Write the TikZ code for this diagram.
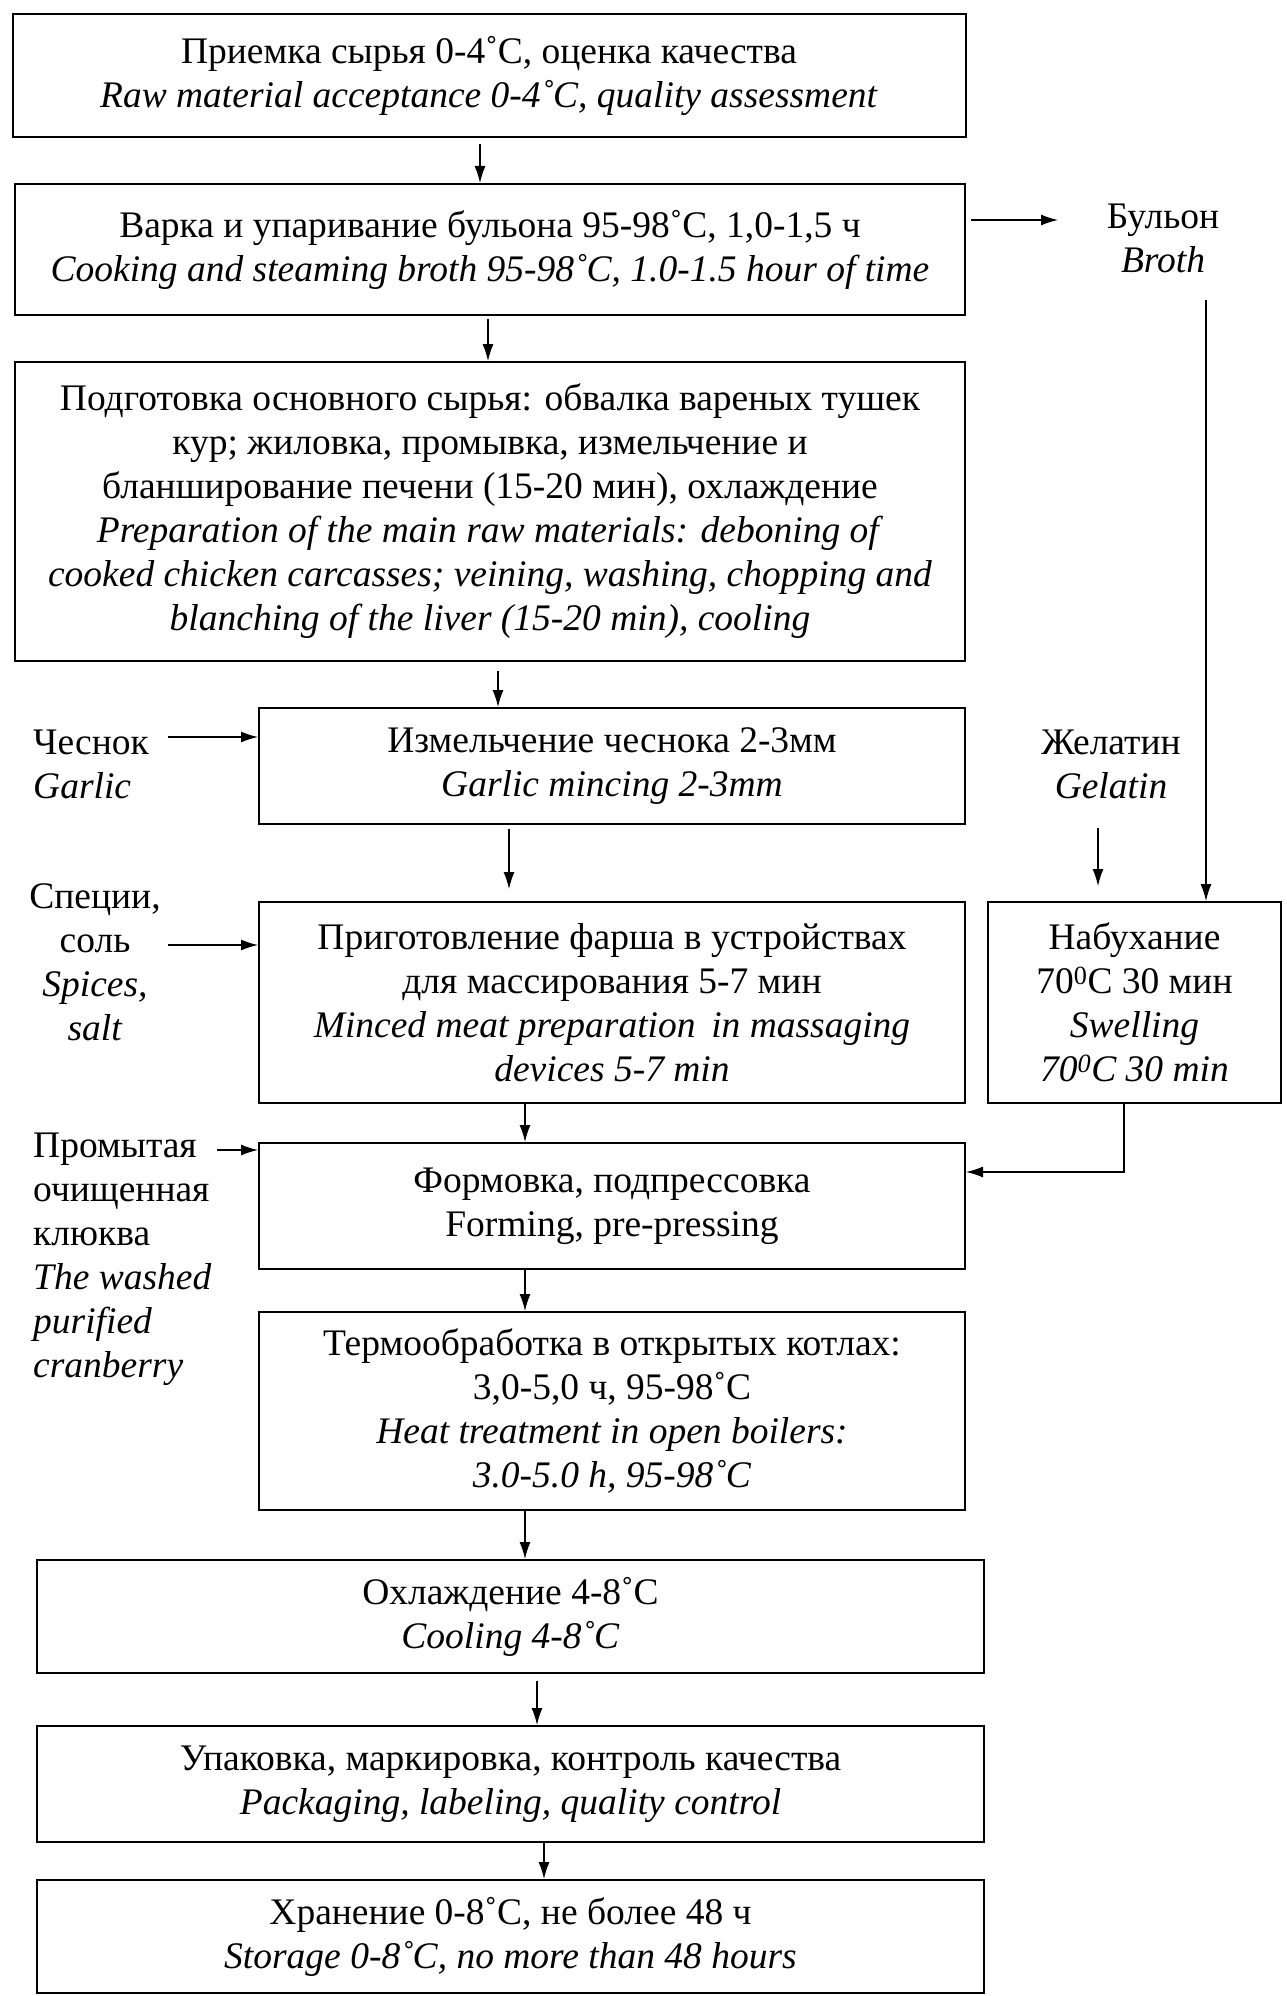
\documentclass[tikz,border=0pt]{standalone}
\usepackage{fontspec}
\setmainfont{Liberation Serif}
\usetikzlibrary{arrows.meta}
\newcommand\fsz{\fontsize{37.5}{44}\selectfont}
\tikzset{
  box/.style={draw, line width=2pt, inner sep=0pt, align=center, font=\fsz},
  lab/.style={inner sep=0pt, font=\fsz},
  arr/.style={line width=1.3pt, -{Latex[length=17pt,width=11pt]}}
}
\begin{document}
\begin{tikzpicture}[x=1pt,y=-1pt]
\useasboundingbox (0,0) rectangle (1286,1996);

% main boxes
\node[box, minimum width=953pt, minimum height=123pt] (b1) at (489,75.5)
  {Приемка сырья 0-4˚C, оценка качества\\\textit{Raw material acceptance 0-4˚C, quality assessment}};
\node[box, minimum width=950pt, minimum height=131pt] (b2) at (490,249.5)
  {Варка и упаривание бульона 95-98˚C, 1,0-1,5 ч\\\textit{Cooking and steaming broth 95-98˚C, 1.0-1.5 hour of time}};
\node[box, minimum width=950pt, minimum height=299pt] (b3) at (490,511.5)
  {Подготовка основного сырья: обвалка вареных тушек\\
   кур; жиловка, промывка, измельчение и\\
   бланширование печени (15-20 мин), охлаждение\\
   \textit{Preparation of the main raw materials: deboning of}\\
   \textit{cooked chicken carcasses; veining, washing, chopping and}\\
   \textit{blanching of the liver (15-20 min), cooling}};
\node[box, minimum width=706pt, minimum height=116pt] (b4) at (612,766)
  {Измельчение чеснока 2-3мм\\\textit{Garlic mincing 2-3mm}};
\node[box, minimum width=706pt, minimum height=201pt] (b5) at (612,1002.5)
  {Приготовление фарша в устройствах\\для массирования 5-7 мин\\
   \textit{Minced meat preparation\, in massaging}\\\textit{devices 5-7 min}};
\node[box, minimum width=293pt, minimum height=201pt] (sw) at (1134.5,1002.5)
  {Набухание\\70\textsuperscript{0}C 30 мин\\\textit{Swelling}\\\textit{70\textsuperscript{0}C 30 min}};
\node[box, minimum width=706pt, minimum height=126pt] (b6) at (612,1206)
  {Формовка, подпрессовка\\Forming, pre-pressing};
\node[box, minimum width=706pt, minimum height=198pt] (b7) at (612,1411)
  {Термообработка в открытых котлах:\\3,0-5,0 ч, 95-98˚C\\
   \textit{Heat treatment in open boilers:}\\\textit{3.0-5.0 h, 95-98˚C}};
\node[box, minimum width=947pt, minimum height=113pt] (b8) at (510.5,1616.5)
  {Охлаждение 4-8˚C\\\textit{Cooling 4-8˚C}};
\node[box, minimum width=947pt, minimum height=116pt] (b9) at (510.5,1784)
  {Упаковка, маркировка, контроль качества\\\textit{Packaging, labeling, quality control}};
\node[box, minimum width=947pt, minimum height=113pt] (b10) at (510.5,1936.5)
  {Хранение 0-8˚C, не более 48 ч\\\textit{Storage 0-8˚C, no more than 48 hours}};

% side labels
\node[lab, align=center] (broth) at (1163,238) {Бульон\\\textit{Broth}};
\node[lab, align=left, anchor=west] (garlic) at (33,764) {Чеснок\\\textit{Garlic}};
\node[lab, align=center] (gel) at (1111,764) {Желатин\\\textit{Gelatin}};
\node[lab, align=center] (spice) at (95,962) {Специи,\\соль\\\textit{Spices,}\\\textit{salt}};
\node[lab, align=left, anchor=west] (cran) at (33,1259)
  {Промытая\\очищенная\\клюква\\\textit{The washed}\\\textit{purified}\\\textit{cranberry}};

% coordinates
\coordinate (x1) at (480,0);
\coordinate (x2) at (488,0);
\coordinate (x3) at (498,0);
\coordinate (x4) at (509,0);
\coordinate (x5) at (525,0);
\coordinate (x8) at (537,0);
\coordinate (x9) at (544,0);
\coordinate (brin) at (1058,220);
\coordinate (bt) at (1206,300);
\coordinate (gaout) at (168,737);
\coordinate (geout) at (1098,828);
\coordinate (spout) at (168,945);
\coordinate (xs) at (1124,1172);
\coordinate (crout) at (217,1150);

% connectors
\draw[arr, shorten <=6pt] (b1.south -| x1) -- (b2.north -| x1);
\draw[arr, shorten <=5pt] (b2.east |- brin) -- (brin);
\draw[arr, shorten <=3pt] (b2.south -| x2) -- (b3.north -| x2);
\draw[arr] (bt) -- (sw.north -| bt);
\draw[arr, shorten <=9pt] (b3.south -| x3) -- (b4.north -| x3);
\draw[arr] (gaout) -- (b4.west |- gaout);
\draw[arr, shorten >=15pt] (geout) -- (sw.north -| geout);
\draw[arr, shorten <=4pt, shorten >=12pt] (b4.south -| x4) -- (b5.north -| x4);
\draw[arr] (spout) -- (b5.west |- spout);
\draw[arr] (b5.south -| x5) -- (b6.north -| x5);
\draw[arr] (sw.south -| xs) |- (b6.east |- xs);
\draw[arr] (crout) -- (b6.west |- crout);
\draw[arr] (b6.south -| x5) -- (b7.north -| x5);
\draw[arr] (b7.south -| x5) -- (b8.north -| x5);
\draw[arr, shorten <=7pt] (b8.south -| x8) -- (b9.north -| x8);
\draw[arr] (b9.south -| x9) -- (b10.north -| x9);
\end{tikzpicture}
\end{document}
